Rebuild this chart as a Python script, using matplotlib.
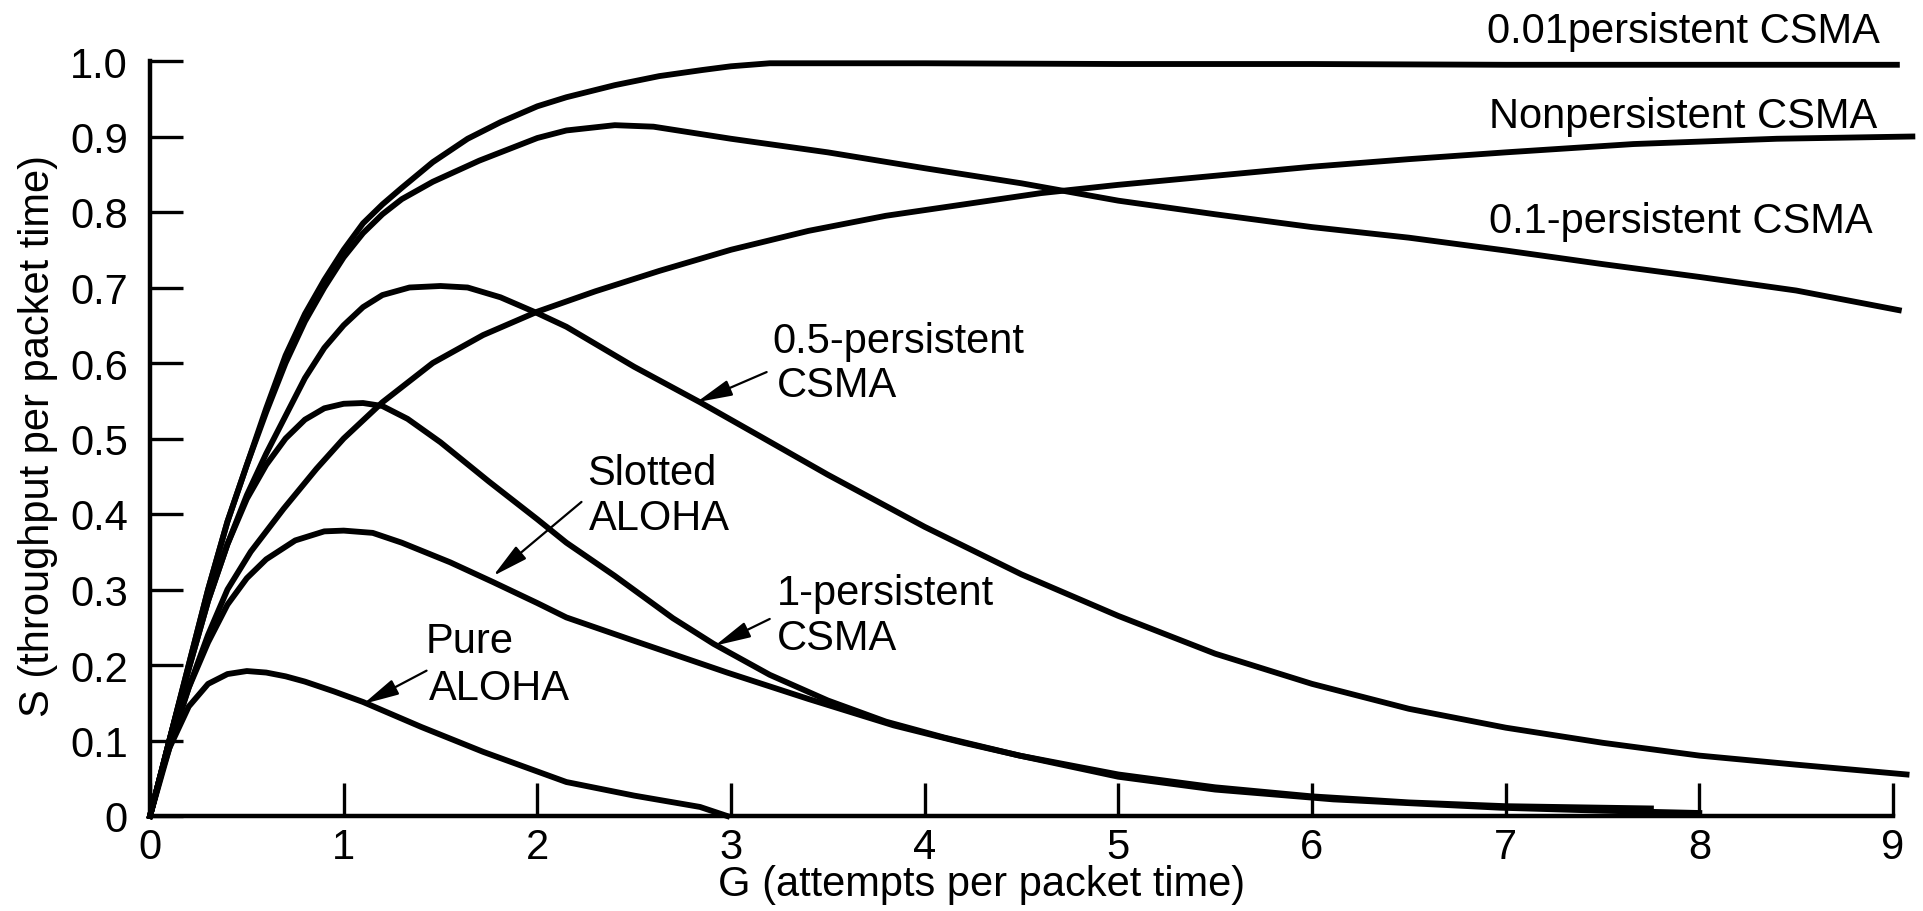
import matplotlib
matplotlib.use('Agg')
from matplotlib import pyplot as plt

# valores (G = tentativas por tempo de pacote, S = vazao)
g_001 = [0, 0.1, 0.2, 0.3, 0.4, 0.5, 0.6, 0.7, 0.8, 0.9, 1.0, 1.1, 1.2, 1.3, 1.46,
         1.64, 1.81, 2.0, 2.15, 2.4, 2.63, 2.85, 3.0, 3.2, 4.0, 5.0, 6.0, 7.0, 8.0, 9.02]
s_001 = [0, 0.1, 0.2, 0.3, 0.39, 0.465, 0.54, 0.61, 0.665, 0.71, 0.75, 0.785, 0.81, 0.832, 0.866,
         0.897, 0.919, 0.94, 0.952, 0.968, 0.98, 0.988, 0.993, 0.997, 0.997, 0.996, 0.996, 0.995, 0.995, 0.995]

g_01 = [0, 0.1, 0.2, 0.3, 0.4, 0.5, 0.6, 0.7, 0.8, 0.9, 1.0, 1.1, 1.2, 1.3, 1.46, 1.7, 2.0,
        2.15, 2.4, 2.6, 3.0, 3.5, 4.0, 4.5, 5.0, 5.5, 6.0, 6.5, 7.0, 7.5, 8.0, 8.5, 9.03]
s_01 = [0, 0.1, 0.2, 0.3, 0.39, 0.465, 0.535, 0.6, 0.655, 0.7, 0.74, 0.772, 0.797, 0.817, 0.84, 0.868, 0.898,
        0.908, 0.915, 0.913, 0.897, 0.879, 0.858, 0.838, 0.815, 0.797, 0.78, 0.766, 0.749, 0.731, 0.714, 0.696, 0.67]

g_np = [0, 0.1, 0.2, 0.3, 0.4, 0.52, 0.69, 0.86, 1.0, 1.2, 1.46, 1.72, 2.0, 2.3, 2.63, 3.0,
        3.4, 3.8, 4.2, 4.6, 5.0, 5.5, 6.0, 6.5, 7.0, 7.66, 8.4, 9.1]
s_np = [0, 0.09, 0.17, 0.24, 0.3, 0.35, 0.407, 0.46, 0.5, 0.548, 0.6, 0.637, 0.668, 0.695, 0.722, 0.75,
        0.775, 0.795, 0.81, 0.825, 0.836, 0.848, 0.86, 0.87, 0.879, 0.89, 0.897, 0.9]

g_05 = [0, 0.1, 0.2, 0.3, 0.4, 0.5, 0.6, 0.7, 0.8, 0.9, 1.0, 1.1, 1.2, 1.34, 1.5, 1.64, 1.81,
        2.0, 2.15, 2.5, 2.84, 3.15, 3.5, 4.0, 4.5, 5.0, 5.5, 6.0, 6.5, 7.0, 7.5, 8.0, 8.5, 9.07]
s_05 = [0, 0.1, 0.195, 0.285, 0.36, 0.425, 0.48, 0.53, 0.58, 0.62, 0.65, 0.674, 0.69, 0.7, 0.702, 0.7, 0.687,
        0.666, 0.648, 0.595, 0.548, 0.503, 0.452, 0.383, 0.32, 0.265, 0.215, 0.175, 0.142, 0.117, 0.097, 0.08, 0.068, 0.055]

g_1p = [0, 0.1, 0.2, 0.3, 0.4, 0.5, 0.6, 0.7, 0.8, 0.9, 1.0, 1.1, 1.2, 1.33, 1.5, 1.75, 2.0,
        2.15, 2.4, 2.7, 2.91, 3.2, 3.5, 3.8, 4.1, 4.49, 5.0, 5.5, 6.0, 6.5, 7.0, 7.75]
s_1p = [0, 0.1, 0.195, 0.285, 0.36, 0.42, 0.465, 0.5, 0.525, 0.54, 0.546, 0.547, 0.543, 0.526, 0.495, 0.443, 0.393,
        0.362, 0.318, 0.262, 0.228, 0.187, 0.153, 0.125, 0.104, 0.08, 0.055, 0.038, 0.026, 0.018, 0.013, 0.01]

g_sa = [0, 0.1, 0.2, 0.3, 0.4, 0.5, 0.6, 0.75, 0.9, 1.0, 1.15, 1.3, 1.55, 1.77, 2.0, 2.15, 2.5,
        2.98, 3.4, 3.84, 4.2, 4.49, 5.0, 5.5, 6.11, 6.97, 7.5, 8.0]
s_sa = [0, 0.095, 0.17, 0.23, 0.28, 0.315, 0.34, 0.365, 0.377, 0.378, 0.375, 0.362, 0.336, 0.31, 0.282, 0.263, 0.232,
        0.19, 0.155, 0.12, 0.097, 0.08, 0.052, 0.035, 0.022, 0.011, 0.007, 0.004]

g_pa = [0, 0.05, 0.1, 0.2, 0.3, 0.4, 0.5, 0.6, 0.7, 0.8, 0.95, 1.1, 1.4, 1.72, 2.15, 2.5, 2.84, 2.98]
s_pa = [0, 0.05, 0.09, 0.145, 0.175, 0.188, 0.192, 0.19, 0.185, 0.178, 0.165, 0.151, 0.118, 0.085, 0.045, 0.027, 0.012, 0.0]

x_ticks = [0, 1, 2, 3, 4, 5, 6, 7, 8, 9]
y_ticks = [0, 0.1, 0.2, 0.3, 0.4, 0.5, 0.6, 0.7, 0.8, 0.9, 1.0]
y_labels = ['0', '0.1', '0.2', '0.3', '0.4', '0.5', '0.6', '0.7', '0.8', '0.9', '1.0']

plt.rcParams['font.family'] = ['Liberation Sans', 'DejaVu Sans']

fig = plt.figure(figsize=(19.24, 9.12), dpi=100)
ax = fig.add_axes([150 / 1924, 1 - 817 / 912, 1743 / 1924, 755 / 912])

for g, s in [(g_001, s_001), (g_01, s_01), (g_np, s_np), (g_05, s_05),
             (g_1p, s_1p), (g_sa, s_sa), (g_pa, s_pa)]:
    ax.plot(g, s, color='black', lw=4.2, clip_on=False, solid_joinstyle='round')

ax.set_xlim(0, 9)
ax.set_ylim(0, 1)
ax.spines['top'].set_visible(False)
ax.spines['right'].set_visible(False)
ax.spines['left'].set_linewidth(3.2)
ax.spines['bottom'].set_linewidth(3.2)
ax.set_xticks(x_ticks)
ax.set_xticklabels([str(t) for t in x_ticks])
ax.set_yticks(y_ticks)
ax.set_yticklabels(y_labels)
ax.tick_params(direction='in', length=24, width=2.4, labelsize=30)
ax.tick_params(axis='x', pad=8)
ax.tick_params(axis='y', pad=16)

ax.set_xlabel('G (attempts per packet time)', fontsize=30)
ax.xaxis.set_label_coords(0.477, -0.063)
ax.set_ylabel('S (throughput per packet time)', fontsize=30)
ax.yaxis.set_label_coords(-0.053, 0.505)

# textos das curvas
notas = [
    ('0.01persistent CSMA', 6.905, 1.025),
    ('Nonpersistent CSMA', 6.915, 0.9126),
    ('0.1-persistent CSMA', 6.915, 0.773),
    ('0.5-persistent', 3.215, 0.615),
    ('CSMA', 3.235, 0.556),
    ('Slotted', 2.255, 0.44),
    ('ALOHA', 2.265, 0.38),
    ('1-persistent', 3.235, 0.281),
    ('CSMA', 3.235, 0.221),
    ('Pure', 1.425, 0.217),
    ('ALOHA', 1.44, 0.155),
]
for txt, x, y in notas:
    ax.text(x, y, txt, fontsize=30, ha='left', va='baseline', clip_on=False)

setas = [
    ((3.184, 0.588), (2.822, 0.548)),
    ((2.228, 0.416), (1.772, 0.318)),
    ((3.2, 0.261), (2.917, 0.2256)),
    ((1.428, 0.1925), (1.101, 0.1483)),
]
for cauda, ponta in setas:
    ax.annotate('', xy=ponta, xytext=cauda, annotation_clip=False,
                arrowprops=dict(arrowstyle='-|>,head_length=1.1,head_width=0.25',
                                mutation_scale=20, color='black', lw=1.6,
                                shrinkA=0, shrinkB=0))

plt.savefig('out.png', dpi=100)
